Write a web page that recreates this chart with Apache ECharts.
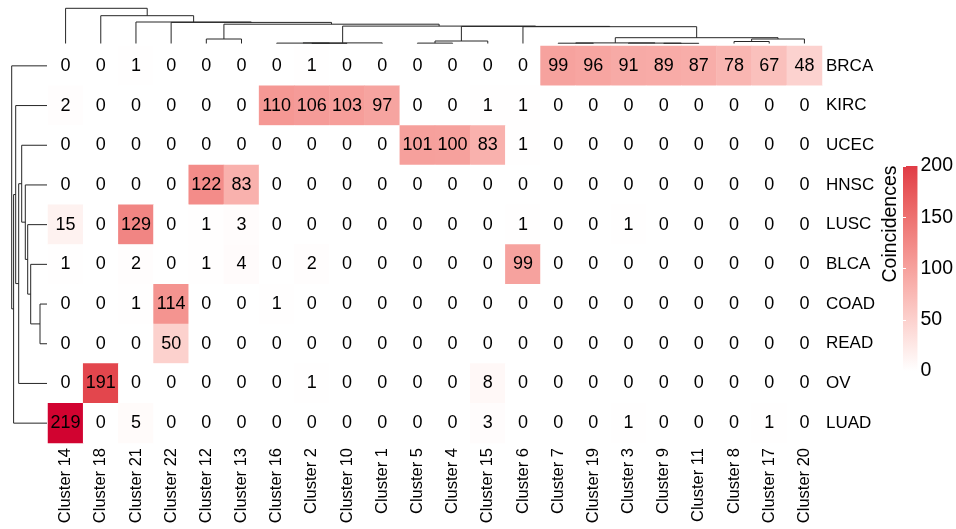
<!DOCTYPE html>
<html><head><meta charset="utf-8">
<script src="https://cdn.jsdelivr.net/npm/echarts@6/dist/echarts.min.js"></script>
<style>html,body{margin:0;padding:0;background:#fff}#c{width:956px;height:529px}</style>
</head><body><div id="c"></div>
<script>
// ---- data ----
const columns = ['Cluster 14','Cluster 18','Cluster 21','Cluster 22','Cluster 12','Cluster 13','Cluster 16','Cluster 2','Cluster 10','Cluster 1','Cluster 5','Cluster 4','Cluster 15','Cluster 6','Cluster 7','Cluster 19','Cluster 3','Cluster 9','Cluster 11','Cluster 8','Cluster 17','Cluster 20'];
const rows = ['BRCA','KIRC','UCEC','HNSC','LUSC','BLCA','COAD','READ','OV','LUAD'];
const BRCA = [0,0,1,0,0,0,0,1,0,0,0,0,0,0,99,96,91,89,87,78,67,48];
const KIRC = [2,0,0,0,0,0,110,106,103,97,0,0,1,1,0,0,0,0,0,0,0,0];
const UCEC = [0,0,0,0,0,0,0,0,0,0,101,100,83,1,0,0,0,0,0,0,0,0];
const HNSC = [0,0,0,0,122,83,0,0,0,0,0,0,0,0,0,0,0,0,0,0,0,0];
const LUSC = [15,0,129,0,1,3,0,0,0,0,0,0,0,1,0,0,1,0,0,0,0,0];
const BLCA = [1,0,2,0,1,4,0,2,0,0,0,0,0,99,0,0,0,0,0,0,0,0];
const COAD = [0,0,1,114,0,0,1,0,0,0,0,0,0,0,0,0,0,0,0,0,0,0];
const READ = [0,0,0,50,0,0,0,0,0,0,0,0,0,0,0,0,0,0,0,0,0,0];
const OV   = [0,191,0,0,0,0,0,1,0,0,0,0,8,0,0,0,0,0,0,0,0,0];
const LUAD = [219,0,5,0,0,0,0,0,0,0,0,0,3,0,0,0,1,0,0,0,1,0];
const rowValues = [BRCA,KIRC,UCEC,HNSC,LUSC,BLCA,COAD,READ,OV,LUAD];
const legendTicks = [0,50,100,150,200];
// dendrogram merges (R hclust style: negative = leaf in display order, positive = earlier merge), height
const colMerges = [
  [-8,-9,0.2],[-7,1,0.4],[2,-10,0.6],[-11,-12,0.4],[4,-13,2.5],
  [-18,-19,0.2],[-17,6,0.4],[-15,-16,0.3],[8,7,0.6],[-20,-21,2.0],
  [10,-22,4.5],[9,11,5.8],[-14,12,16.8],[5,13,17.1],[3,14,17.4],
  [-5,-6,4.5],[16,15,19.3],[-4,17,21.1],[-3,18,21.5],[-2,19,27.8],[-1,20,35.2]
];
const rowMerges = [
  [-7,-8,7.0],[-6,1,16.3],[-5,2,19.3],[-4,3,21.7],[-3,4,25.3],
  [5,-9,28.3],[-2,6,31.3],[-10,7,33.4],[-1,8,35.3]
];

// ---- build ----
const heatData = [];
rowValues.forEach((vals, r) => vals.forEach((v, c) => heatData.push([c, r, v])));

function buildLinks(merges) {
  const pos = [], hgt = [], out = [];
  merges.forEach(([a, b, h], k) => {
    const pa = a < 0 ? (-a - 1) + 0.5 : pos[a - 1];
    const ha = a < 0 ? 0 : hgt[a - 1];
    const pb = b < 0 ? (-b - 1) + 0.5 : pos[b - 1];
    const hb = b < 0 ? 0 : hgt[b - 1];
    pos[k] = (pa + pb) / 2; hgt[k] = h;
    out.push([pa, ha, pb, hb, h]);
  });
  return out;
}
const colLinks = buildLinks(colMerges);
const rowLinks = buildLinks(rowMerges);

const FONT = 'Liberation Sans, Arial, sans-serif';
const LINE = '#262626';
const rampColors = ['#FFFFFF','#FEEDEB','#FDDAD7','#FBC7C3','#F9B4B0','#F6A19D','#F38E8B','#EF7B79','#EB6767','#E65256','#E03C46','#D0002F'];

const chart = echarts.init(document.getElementById('c'), null, {renderer: 'canvas'});
chart.setOption({
  animation: false,
  backgroundColor: '#fff',
  grid: [
    {left: 48, top: 46, width: 774, height: 397},
    {left: 48, top: 8.3, width: 774, height: 35.2},
    {left: 11.7, top: 46, width: 35.3, height: 397},
    {left: 903, top: 166, width: 16, height: 205}
  ],
  xAxis: [
    {type: 'category', data: columns, gridIndex: 0, position: 'bottom',
     axisLine: {show: false}, axisTick: {show: false}, splitLine: {show: false},
     axisLabel: {rotate: 90, interval: 0, fontSize: 16.5, color: '#000', fontFamily: FONT, margin: 5}},
    {type: 'value', gridIndex: 1, min: 0, max: columns.length, show: false},
    {type: 'value', gridIndex: 2, min: 0, max: 35.3, inverse: true, show: false},
    {type: 'value', gridIndex: 3, min: 0, max: 1, show: false}
  ],
  yAxis: [
    {type: 'category', data: rows, gridIndex: 0, inverse: true, position: 'right',
     axisLine: {show: false}, axisTick: {show: false}, splitLine: {show: false},
     axisLabel: {fontSize: 17, color: '#000', fontFamily: FONT, margin: 4}},
    {type: 'value', gridIndex: 1, min: 0, max: 35.2, show: false},
    {type: 'value', gridIndex: 2, min: 0, max: rows.length, inverse: true, show: false},
    {type: 'value', gridIndex: 3, min: 0, max: 200, interval: 50, position: 'right', z: 5,
     axisLine: {show: false}, splitLine: {show: false},
     axisTick: {show: true, inside: true, length: 3, lineStyle: {color: '#fff', width: 1}},
     axisLabel: {fontSize: 19.5, color: '#000', fontFamily: FONT, margin: 3,
       formatter: v => legendTicks.includes(v) ? String(v) : ''}},
    {type: 'value', gridIndex: 3, min: 0, max: 200, interval: 50, position: 'left', z: 5,
     axisLine: {show: false}, splitLine: {show: false}, axisLabel: {show: false},
     axisTick: {show: true, inside: true, length: 3, lineStyle: {color: '#fff', width: 1}}}
  ],
  visualMap: [{
    type: 'continuous', show: false, seriesIndex: 0, dimension: 2,
    min: 0, max: 220, inRange: {color: rampColors}
  }],
  graphic: [{
    type: 'text', x: 891, y: 224, rotation: Math.PI / 2,
    style: {text: 'Coincidences', font: '19.5px ' + FONT, fill: '#000', textAlign: 'center', textVerticalAlign: 'middle'}
  }],
  series: [
    {type: 'heatmap', xAxisIndex: 0, yAxisIndex: 0, data: heatData,
     label: {show: true, fontSize: 18, color: '#000', fontFamily: FONT},
     itemStyle: {borderWidth: 0}, emphasis: {disabled: true}},
    {type: 'custom', xAxisIndex: 1, yAxisIndex: 1, data: colLinks, silent: true,
     encode: {x: [0, 2], y: [1, 3, 4]},
     renderItem: (p, api) => {
       const pa = api.value(0), ha = api.value(1), pb = api.value(2), hb = api.value(3), h = api.value(4);
       return {type: 'polyline', shape: {points: [api.coord([pa, ha]), api.coord([pa, h]), api.coord([pb, h]), api.coord([pb, hb])]},
               style: {stroke: LINE, lineWidth: 1, fill: null}};
     }},
    {type: 'custom', xAxisIndex: 2, yAxisIndex: 2, data: rowLinks, silent: true,
     encode: {x: [1, 3, 4], y: [0, 2]},
     renderItem: (p, api) => {
       const pa = api.value(0), ha = api.value(1), pb = api.value(2), hb = api.value(3), h = api.value(4);
       return {type: 'polyline', shape: {points: [api.coord([ha, pa]), api.coord([h, pa]), api.coord([h, pb]), api.coord([hb, pb])]},
               style: {stroke: LINE, lineWidth: 1, fill: null}};
     }},
    {type: 'custom', xAxisIndex: 3, yAxisIndex: 3, data: [[0, 0, 1, 200]], silent: true, z: 1,
     renderItem: (p, api) => {
       const a = api.coord([api.value(0), api.value(1)]), b = api.coord([api.value(2), api.value(3)]);
       const stops = rampColors.slice(0, 11).map((c, i) => ({offset: i / 10, color: c}));
       return {type: 'rect', shape: {x: a[0], y: b[1], width: b[0] - a[0], height: a[1] - b[1]},
               style: {fill: new echarts.graphic.LinearGradient(0, 1, 0, 0, stops)}};
     }}
  ]
});
</script></body></html>
